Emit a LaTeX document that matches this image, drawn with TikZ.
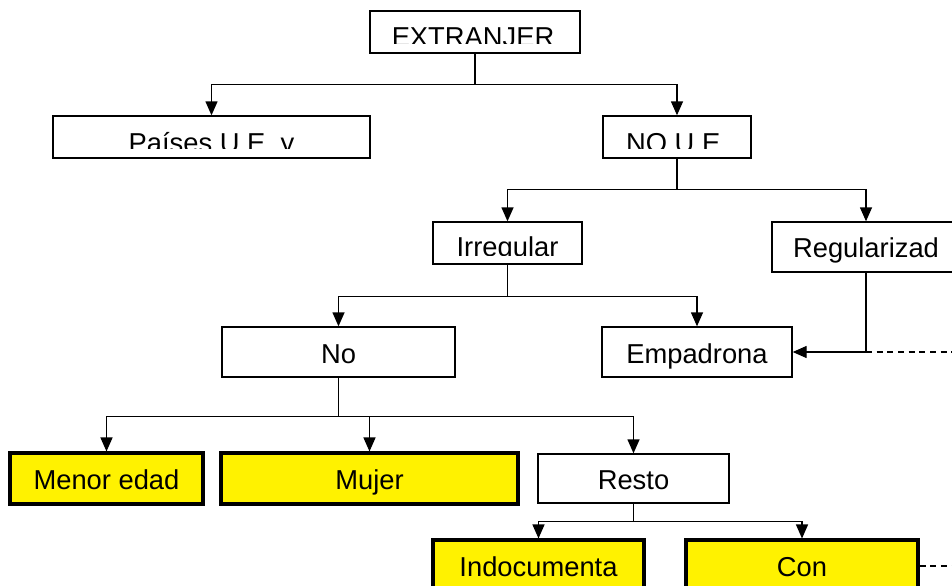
\documentclass[tikz,border=0pt]{standalone}
\usepackage{fontspec}
\setmainfont{Liberation Sans}
\usetikzlibrary{arrows.meta}

\tikzset{
  caja/.style={draw, line width=1pt, fill=white, inner sep=0pt},
  cajaamarilla/.style={draw, line width=2.3pt, fill=yellow, inner sep=0pt},
  rotulo/.style={anchor=base, inner sep=0pt, font=\fontsize{20.5}{24}\selectfont},
  rama/.style={line width=1pt},
  flecha/.style={line width=1pt, -{Triangle[length=10.5pt,width=9pt]}},
  discontinua/.style={line width=1pt, dash pattern=on 4.5pt off 3.5pt},
}

\begin{document}
\begin{tikzpicture}[x=0.75pt,y=-0.75pt]
\useasboundingbox (0,0) rectangle (952,585);
% cajas
\node[caja, minimum width=157.5pt, minimum height=31.5pt] (ext) at (475,32) {};
\node[caja, minimum width=237.75pt, minimum height=31.5pt] (paises) at (211.5,137) {};
\node[caja, minimum width=111pt, minimum height=31.5pt] (noue) at (677,137) {};
\node[caja, minimum width=111.75pt, minimum height=31.5pt] (irreg) at (507.5,243) {};
\node[caja, minimum width=141pt, minimum height=37.5pt] (regul) at (866,247) {};
\node[caja, minimum width=174.75pt, minimum height=37.5pt] (no) at (338.5,352) {};
\node[caja, minimum width=142.5pt, minimum height=37.5pt] (empad) at (697,352) {};
\node[cajaamarilla, minimum width=144.75pt, minimum height=38.25pt] (menor) at (106.5,478.5) {};
\node[cajaamarilla, minimum width=222.75pt, minimum height=38.25pt] (mujer) at (369.5,478.5) {};
\node[caja, minimum width=143.25pt, minimum height=36.75pt] (resto) at (633.5,478.5) {};
\node[cajaamarilla, minimum width=158.25pt, minimum height=39pt] (indoc) at (538.5,566) {};
\node[cajaamarilla, minimum width=174pt, minimum height=39pt] (con) at (802,566) {};

% textos cortados por la caja
\begin{scope}
\clip (370,11) rectangle (580,44);
\node[rotulo] (t-ext) at (473,47) {EXTRANJER};
\end{scope}
\begin{scope}
\clip (53,116) rectangle (370,148);
\node[rotulo] (t-paises) at (211.5,152.5) {Países U.E. y};
\end{scope}
\begin{scope}
\clip (603,116) rectangle (751,148);
\node[rotulo] (t-noue) at (677,152.5) {NO U.E.};
\end{scope}
\begin{scope}
\clip (433,222) rectangle (582,255);
\node[rotulo] (t-irreg) at (507.5,256.5) {Irregular};
\end{scope}

% textos
\node[rotulo] (t-regul) at (866,257) {Regularizad};
\node[rotulo] (t-no) at (338.5,363) {No};
\node[rotulo] (t-empad) at (697,363) {Empadrona};
\node[rotulo] (t-menor) at (106.5,489) {Menor edad};
\node[rotulo] (t-mujer) at (369.5,489) {Mujer};
\node[rotulo] (t-resto) at (633.5,489) {Resto};
\node[rotulo] (t-indoc) at (538.5,576) {Indocumenta};
\node[rotulo] (t-con) at (802,576) {Con};

% conectores
\draw[rama] (ext.south) -- ++(0,31) coordinate (r1);
\draw[flecha] (r1) -| (paises.north);
\draw[flecha] (r1) -| (noue.north);

\draw[rama] (noue.south) -- ++(0,31) coordinate (r2);
\draw[flecha] (r2) -| (irreg.north);
\draw[flecha] (r2) -| (regul.north);

\draw[rama] (irreg.south) -- ++(0,32) coordinate (r3);
\draw[flecha] (r3) -| (no.north);
\draw[flecha] (r3) -| (empad.north);

\draw[flecha] (regul.south) |- (empad.east);
\coordinate (bordeA) at (952,352);
\draw[discontinua] (regul.south |- empad.east) -- (bordeA);

\draw[rama] (no.south) -- ++(0,39) coordinate (r4);
\draw[flecha] (r4) -| (menor.north);
\draw[flecha] (r4) -| (mujer.north);
\draw[flecha] (r4) -| (resto.north);

\draw[rama] (resto.south) -- ++(0,18) coordinate (r5);
\draw[flecha] (r5) -| (indoc.north);
\draw[flecha] (r5) -| (con.north);

\coordinate (bordeB) at (952,566);
\draw[discontinua] (con.east) -- (bordeB);
\end{tikzpicture}
\end{document}
